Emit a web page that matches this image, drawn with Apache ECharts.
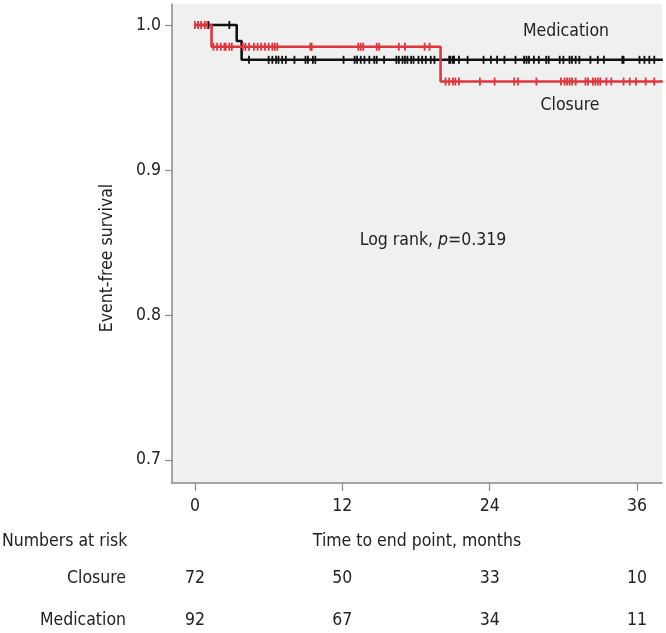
<!DOCTYPE html>
<html>
<head>
<meta charset="utf-8">
<script src="https://cdn.jsdelivr.net/npm/echarts@6/dist/echarts.min.js"></script>
<style>
  html, body { margin: 0; padding: 0; background: #fff; }
  #chart { width: 666px; height: 633px; }
</style>
</head>
<body>
<div id="chart"></div>
<script>
// survival step curves (time in months, survival)
const closureTimes = [0, 1.35, 20.0, 38.1];
const closureSurv = [1.0, 0.985, 0.961, 0.961];
const medicationTimes = [0, 3.4, 3.8, 38.1];
const medicationSurv = [1.0, 0.989, 0.976, 0.976];

// censored observations, grouped by the survival level they sit on
const closureCensorAt1 = [0, 0.25, 0.5, 0.8, 1.0];
const closureCensorAt2 = [1.5, 1.8, 2.1, 2.4, 2.5, 2.8, 3.0, 3.9, 4.1, 4.4, 4.8, 5.1, 5.4, 5.7, 6.0, 6.3, 6.5, 6.7,
  9.4, 9.5, 13.3, 13.5, 13.7, 14.8, 15.0, 16.6, 17.1, 18.7, 19.1];
const closureCensorAt3 = [20.4, 20.7, 21.0, 21.2, 21.5, 23.2, 24.4, 26.0, 26.3, 27.8, 29.8, 30.1, 30.3, 30.5,
  30.7, 31.0, 31.8, 32.0, 32.4, 32.6, 32.8, 33.0, 33.5, 33.9, 34.9, 35.4, 35.9, 36.7, 37.4];
const medicationCensorAt1 = [1.1, 2.8];
const medicationCensorAt3 = [4.4, 6.0, 6.3, 6.6, 6.8, 7.1, 7.4, 8.1, 9.0, 9.2, 9.6, 9.8, 12.1, 13.0, 13.2, 13.5,
  13.8, 14.2, 14.6, 14.8, 15.4, 16.4, 16.6, 16.9, 17.1, 17.3, 17.6, 17.8, 18.2, 18.5, 18.8, 19.2, 19.5, 20.7,
  20.8, 21.0, 21.1, 21.5, 22.2, 23.5, 24.1, 24.6, 25.2, 26.1, 26.8, 27.0, 27.2, 27.6, 28.0, 28.6, 28.8, 29.7,
  30.0, 30.5, 30.7, 31.0, 31.3, 32.2, 32.8, 33.3, 34.8, 34.9, 36.2, 36.6, 37.0, 37.4];

// axis ticks
const xTicks = [0, 12, 24, 36];
const yTicks = [0.7, 0.8, 0.9, 1.0];

// numbers at risk table
const riskGroups = ['Medication', 'Closure'];
const riskTimes = [0, 12, 24, 36];
const closureRisk = [72, 50, 33, 10];
const medicationRisk = [92, 67, 34, 11];

const FONT = '"DejaVu Sans Condensed", "Liberation Sans Narrow", sans-serif';
const FS = 17.5;
const TEXT = '#222222';
const AXIS = '#8a8a8a';
const RED = '#e0353c';
const BLACK = '#111111';

const zip = (xs, ys) => xs.map((x, i) => [x, ys[i]]);
const atLevel = (xs, y) => xs.map(x => [x, y]);

const chart = echarts.init(document.getElementById('chart'));

const censorSeries = (name, data, color) => ({
  name: name,
  type: 'scatter',
  xAxisIndex: 0,
  yAxisIndex: 0,
  symbol: 'rect',
  symbolSize: [1.8, 8],
  itemStyle: { color: color, opacity: 1 },
  silent: true,
  z: 4,
  data: data
});

const riskData = [];
riskTimes.forEach((t, i) => {
  riskData.push([t, 'Closure', closureRisk[i]]);
  riskData.push([t, 'Medication', medicationRisk[i]]);
});

const option = {
  animation: false,
  textStyle: { fontFamily: FONT },
  grid: [
    {
      left: 172, right: 4, top: 4, bottom: 150,
      show: true, backgroundColor: '#f0f0f0', borderWidth: 0
    },
    { left: 172, right: 4, top: 578, height: 42 }
  ],
  xAxis: [
    {
      gridIndex: 0,
      type: 'value',
      min: -1.87,
      max: 38.03,
      name: 'Time to end point, months',
      nameLocation: 'middle',
      nameGap: 49,
      nameTextStyle: { color: TEXT, fontSize: FS, fontFamily: FONT },
      axisLine: { show: true, onZero: false, lineStyle: { color: AXIS, width: 1.5 } },
      axisTick: { show: true, length: 8, customValues: xTicks, lineStyle: { color: AXIS, width: 1.2 } },
      axisLabel: { customValues: xTicks, color: TEXT, fontSize: FS, margin: 14, fontFamily: FONT },
      splitLine: { show: false }
    },
    {
      gridIndex: 1,
      type: 'value',
      min: -1.87,
      max: 38.03,
      show: false
    }
  ],
  yAxis: [
    {
      gridIndex: 0,
      type: 'value',
      min: 0.6841,
      max: 1.0145,
      axisLine: { show: true, onZero: false, lineStyle: { color: AXIS, width: 1.5 } },
      axisTick: { show: true, length: 7, customValues: yTicks, lineStyle: { color: AXIS, width: 1.2 } },
      axisLabel: {
        customValues: yTicks, color: TEXT, fontSize: FS, margin: 11, fontFamily: FONT,
        formatter: v => v.toFixed(1)
      },
      splitLine: { show: false }
    },
    {
      gridIndex: 1,
      type: 'category',
      data: riskGroups,
      boundaryGap: false,
      axisLine: { show: false },
      axisTick: { show: false },
      axisLabel: { color: TEXT, fontSize: FS, margin: 46, fontFamily: FONT },
      splitLine: { show: false }
    }
  ],
  series: [
    {
      name: 'Medication',
      type: 'line',
      step: 'end',
      xAxisIndex: 0, yAxisIndex: 0,
      showSymbol: false,
      clip: true,
      lineStyle: { color: BLACK, width: 2.6 },
      z: 3,
      data: zip(medicationTimes, medicationSurv)
    },
    {
      name: 'Closure',
      type: 'line',
      step: 'end',
      xAxisIndex: 0, yAxisIndex: 0,
      showSymbol: false,
      clip: true,
      lineStyle: { color: RED, width: 2.6 },
      z: 3,
      data: zip(closureTimes, closureSurv)
    },
    censorSeries('Medication censored', atLevel(medicationCensorAt1, medicationSurv[0])
      .concat(atLevel(medicationCensorAt3, medicationSurv[2])), BLACK),
    censorSeries('Closure censored', atLevel(closureCensorAt1, closureSurv[0])
      .concat(atLevel(closureCensorAt2, closureSurv[1]))
      .concat(atLevel(closureCensorAt3, closureSurv[2])), RED),
    {
      name: 'Numbers at risk',
      type: 'scatter',
      xAxisIndex: 1,
      yAxisIndex: 1,
      symbolSize: 0,
      silent: true,
      itemStyle: { opacity: 1 },
      label: {
        show: true,
        position: 'inside',
        color: TEXT,
        opacity: 1,
        fontSize: FS,
        fontFamily: FONT,
        formatter: p => String(p.value[2])
      },
      data: riskData
    }
  ],
  graphic: [
    {
      type: 'text',
      x: 107, y: 258,
      rotation: Math.PI / 2,
      style: {
        text: 'Event-free survival', fill: TEXT, font: FS + 'px ' + FONT,
        align: 'center', verticalAlign: 'middle'
      }
    },
    {
      type: 'text',
      x: 2, y: 541,
      style: {
        text: 'Numbers at risk', fill: TEXT, font: FS + 'px ' + FONT,
        align: 'left', verticalAlign: 'middle'
      }
    },
    {
      type: 'text',
      x: 566, y: 31,
      style: { text: 'Medication', fill: TEXT, font: FS + 'px ' + FONT, align: 'center', verticalAlign: 'middle' }
    },
    {
      type: 'text',
      x: 570, y: 105,
      style: { text: 'Closure', fill: TEXT, font: FS + 'px ' + FONT, align: 'center', verticalAlign: 'middle' }
    },
    {
      type: 'text',
      x: 433, y: 240,
      style: {
        text: '{n|Log rank, }{i|p}{n|=0.319}',
        align: 'center',
        verticalAlign: 'middle',
        rich: {
          n: { fill: TEXT, color: TEXT, fontSize: FS, fontFamily: FONT },
          i: { fill: TEXT, color: TEXT, fontSize: FS, fontFamily: FONT, fontStyle: 'italic' }
        }
      }
    }
  ]
};

chart.setOption(option);
</script>
</body>
</html>
